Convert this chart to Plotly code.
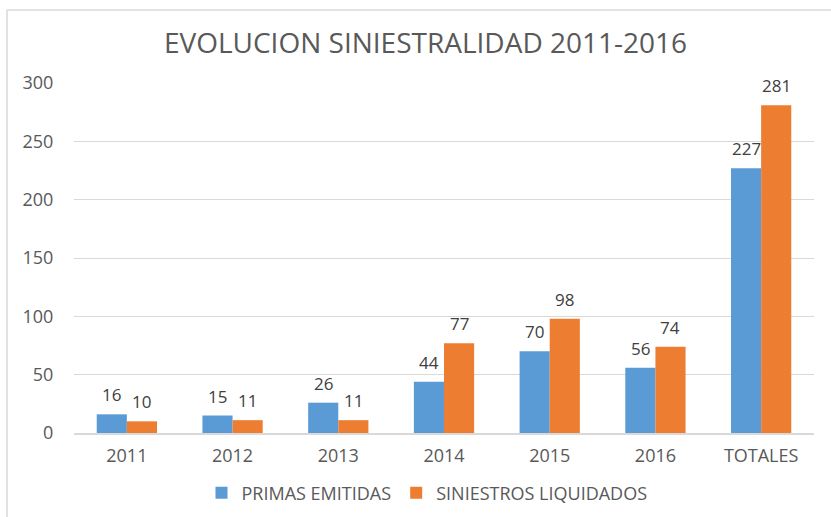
import plotly.graph_objects as go

categories = ["2011", "2012", "2013", "2014", "2015", "2016", "TOTALES"]
primas = [16, 15, 26, 44, 70, 56, 227]
siniestros = [10, 11, 11, 77, 98, 74, 281]
y_ticks = [0, 50, 100, 150, 200, 250, 300]

W, H = 831, 517
L, R, T, B = 74, 17, 83, 84
pw, ph = W - L - R, H - T - B

font = "Open Sans"
gray = "#595959"

fig = go.Figure()
fig.add_trace(go.Bar(name="PRIMAS EMITIDAS", x=categories, y=primas,
                     marker=dict(color="#5B9BD5", line=dict(width=0))))
fig.add_trace(go.Bar(name="SINIESTROS LIQUIDADOS", x=categories, y=siniestros,
                     marker=dict(color="#ED7D31", line=dict(width=0))))

annotations = []
for vals, shift in ((primas, -15), (siniestros, 15)):
    for i, v in enumerate(vals):
        annotations.append(dict(x=i, y=v, text=str(v), showarrow=False,
                                xshift=shift, yshift=6, yanchor="bottom",
                                font=dict(family=font, size=17, color="#404040")))

def px_x(p):
    return (p - L) / pw

def px_y(p):
    return (H - B - p) / ph

shapes = [
    dict(type="line", xref="paper", yref="paper", x0=px_x(7), x1=px_x(W + 5),
         y0=px_y(10), y1=px_y(10), line=dict(color="#D9D9D9", width=1.5)),
    dict(type="line", xref="paper", yref="paper", x0=px_x(7), x1=px_x(7),
         y0=px_y(10), y1=px_y(H + 5), line=dict(color="#D9D9D9", width=1.5)),
]

fig.update_layout(
    width=W, height=H,
    margin=dict(l=L, r=R, t=T, b=B, autoexpand=False),
    paper_bgcolor="white", plot_bgcolor="white",
    barmode="group", bargap=0.43, bargroupgap=0,
    title=dict(text="EVOLUCION SINIESTRALIDAD 2011-2016", x=0.512, xanchor="center",
               y=1 - 43 / H, yanchor="middle",
               font=dict(family=font, size=28, color=gray)),
    legend=dict(orientation="h", x=px_x(427), xanchor="center", y=px_y(493), yanchor="middle",
                font=dict(family=font, size=18, color=gray), traceorder="normal",
                itemwidth=30),
    annotations=annotations,
    shapes=shapes,
    showlegend=True,
)
fig.update_xaxes(type="category", automargin=False, range=[-0.5, len(categories) - 0.5],
                 showline=True, linecolor="#D9D9D9", linewidth=1.5,
                 ticks="outside", ticklen=6, tickcolor="rgba(0,0,0,0)",
                 tickfont=dict(family=font, size=18, color=gray))
fig.update_yaxes(range=[0, 300], tickvals=y_ticks, showgrid=True, gridcolor="#D9D9D9",
                 automargin=False, gridwidth=1, zeroline=False, showline=False,
                 ticks="outside", ticklen=16, tickcolor="rgba(0,0,0,0)",
                 tickfont=dict(family=font, size=18, color=gray))

fig.write_html("out.html", config={"displayModeBar": False},
               post_script="document.body.style.margin='0';document.body.style.overflow='hidden';")
